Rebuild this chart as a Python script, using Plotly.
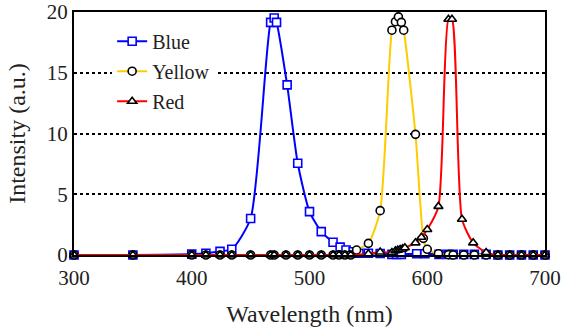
import plotly.graph_objects as go

blue_x = [300, 350, 400, 412, 424, 434, 450, 467, 470, 472, 481, 490, 500, 510, 520, 526, 531, 537, 542, 550, 560, 570, 574, 578, 591, 598, 610, 618, 622, 631, 640, 650, 660, 670, 680, 690, 700]
blue_y = [0, 0, 0.07, 0.14, 0.3, 0.47, 3.0, 19.15, 19.5, 19.15, 14.0, 7.55, 3.57, 1.92, 1.05, 0.65, 0.41, 0.27, 0.15, 0.15, 0.12, 0.05, 0.05, 0.05, 0.1, 0.1, 0.05, 0.05, 0.05, 0.05, 0.05, 0.05, 0, 0, 0, 0, 0]

yellow_x = [300, 350, 400, 412, 424, 434, 450, 467, 470, 480, 490, 500, 510, 520, 525, 530, 535, 540, 550, 560, 570, 573, 575.5, 578, 580, 590, 596.7, 600, 609.5, 618, 622, 631, 640, 650, 660, 670, 680, 690, 700]
yellow_y = [0, 0, 0, 0, 0, 0, 0, 0, 0, 0, 0, 0, 0, 0, 0, 0, 0, 0.41, 0.96, 3.65, 18.5, 19.2, 19.6, 19.15, 18.5, 9.93, 1.37, 0.47, 0.1, 0.03, 0, 0, 0, 0, 0, 0, 0, 0, 0]

red_x = [300, 350, 400, 412, 424, 434, 450, 467, 470, 480, 490, 500, 510, 520, 525, 530, 535, 550, 560, 570, 573, 575, 577, 579, 581, 590, 595, 600, 609.5, 618, 621, 629.5, 639, 650, 660, 670, 680, 690, 700]
red_y = [0, 0, 0, 0, 0, 0, 0, 0, 0, 0, 0, 0, 0, 0, 0, 0, 0, 0.1, 0.25, 0.2, 0.35, 0.4, 0.45, 0.5, 0.6, 1.0, 1.46, 2.1, 4.0, 19.4, 19.4, 2.94, 1.0, 0.2, 0, 0, 0, 0, 0]

x_ticks = [300, 400, 500, 600, 700]
y_ticks = [0, 5, 10, 15, 20]

FONT = "Liberation Serif"

fig = go.Figure()
series = [
    ("Blue", blue_x, blue_y, "#0000FF", "square", "#0000FF"),
    ("Yellow", yellow_x, yellow_y, "#FFCC00", "circle", "#000000"),
    ("Red", red_x, red_y, "#FF0000", "triangle-up", "#000000"),
]
for name, xs, ys, lc, sym, mc in series:
    fig.add_trace(go.Scatter(
        x=xs, y=ys, name=name, mode="lines+markers",
        line=dict(color=lc, width=2, shape="spline", smoothing=0.6),
        marker=dict(symbol=sym, size=8, color="white", line=dict(color=mc, width=1.6)),
        legendgroup=name, cliponaxis=False,
    ))

fig.update_layout(
    width=562, height=329,
    margin=dict(l=74, r=17, t=12, b=74, autoexpand=False),
    paper_bgcolor="white", plot_bgcolor="white",
    font=dict(family=FONT, size=20, color="#222222"),
    showlegend=True,
    legend=dict(x=0.081, y=0.96, xanchor="left", yanchor="top",
                bgcolor="white", borderwidth=0, tracegroupgap=1,
                font=dict(family=FONT, size=20, color="#222222")),
    xaxis=dict(range=[300, 700], tickvals=x_ticks, showgrid=False, zeroline=False,
               showline=True, linecolor="black", linewidth=2, mirror=True,
               ticks="", automargin=False, tickfont=dict(size=21),
               ticklabeloverflow="allow", ticklabelstandoff=3,
               title=dict(text="Wavelength (nm)", standoff=16)),
    yaxis=dict(range=[0, 20], tickvals=y_ticks, showgrid=True, gridcolor="black",
               griddash="dot", gridwidth=1.5, zeroline=False,
               showline=True, linecolor="black", linewidth=2, mirror=True,
               ticks="", automargin=False, tickfont=dict(size=21),
               ticklabeloverflow="allow",
               title=dict(text="Intensity (a.u.)", standoff=14)),
)
fig.write_html("out.html", config={"displayModeBar": False},
               post_script="document.body.style.margin='0';")
